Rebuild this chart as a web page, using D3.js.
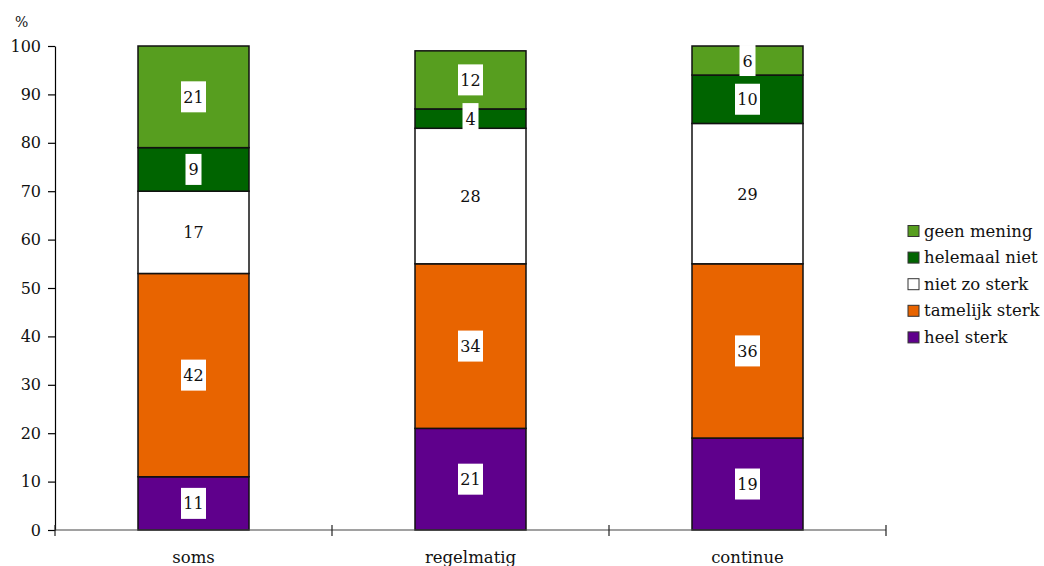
<!DOCTYPE html>
<html><head><meta charset="utf-8">
<script src="https://cdn.jsdelivr.net/npm/d3@7"></script>
<style>body{margin:0;background:#fff}svg{display:block}text{font-family:"DejaVu Serif",serif}</style>
</head><body><svg id="c" width="1044" height="566"></svg>
<script>
const categories = ["soms", "regelmatig", "continue"];
const seriesNames = ["heel sterk", "tamelijk sterk", "niet zo sterk", "helemaal niet", "geen mening"];
const heelSterk = [11, 21, 19];
const tamelijkSterk = [42, 34, 36];
const nietZoSterk = [17, 28, 29];
const helemaalNiet = [9, 4, 10];
const geenMening = [21, 12, 6];
const yTicks = [0, 10, 20, 30, 40, 50, 60, 70, 80, 90, 100];
const colors = ["#5f008c", "#e86400", "#ffffff", "#006400", "#579e1f"];

const values = [heelSterk, tamelijkSterk, nietZoSterk, helemaalNiet, geenMening];
const data = categories.map((c, i) => {
  const o = {cat: c};
  seriesNames.forEach((s, j) => o[s] = values[j][i]);
  return o;
});
const stacked = d3.stack().keys(seriesNames)(data);

const svg = d3.select("#c");
const x0 = 55, x1 = 886, yTop = 46, yBot = 530;
const x = d3.scaleBand().domain(categories).range([x0, x1]).paddingInner(0).paddingOuter(0);
const y = d3.scaleLinear().domain([0, 100]).range([yBot, yTop]);
const barW = 111;

// bars
const g = svg.append("g");
stacked.forEach((layer, j) => {
  g.selectAll(null).data(layer).enter().append("rect")
    .attr("x", d => x(d.data.cat) + x.bandwidth() / 2 - barW / 2)
    .attr("y", d => y(d[1]))
    .attr("width", barW)
    .attr("height", d => y(d[0]) - y(d[1]))
    .attr("fill", colors[j])
    .attr("stroke", "#111")
    .attr("stroke-width", 1.5);
});

// axes
const yAxis = d3.axisLeft(y).tickValues(yTicks).tickSize(7).tickSizeOuter(0);
const ya = svg.append("g").attr("transform", `translate(${x0},0)`).call(yAxis);
ya.select(".domain").attr("stroke", "#000").attr("stroke-width", 1.2);
ya.selectAll(".tick line").attr("stroke", "#000").attr("stroke-width", 1.2);
ya.selectAll(".tick text").attr("font-size", 16).attr("fill", "#111").attr("x", -14).attr("font-family", "DejaVu Serif");

// x axis line
svg.append("line").attr("x1", x0).attr("x2", x1).attr("y1", yBot).attr("y2", yBot)
  .attr("stroke", "#444").attr("stroke-width", 1.2);
const bounds = [x0, ...categories.map(c => x(c) + x.bandwidth())];
svg.selectAll(null).data(bounds).enter().append("line")
  .attr("x1", d => d).attr("x2", d => d).attr("y1", yBot - 5).attr("y2", yBot + 6)
  .attr("stroke", "#222").attr("stroke-width", 1.2);
svg.selectAll(null).data(categories).enter().append("text")
  .attr("x", d => x(d) + x.bandwidth() / 2).attr("y", 563)
  .attr("text-anchor", "middle").attr("font-size", 16.5).attr("fill", "#111").text(d => d);

svg.append("text").attr("x", 15).attr("y", 27).attr("font-size", 14).attr("fill", "#111").text("%");

// value labels
stacked.forEach((layer, j) => {
  layer.forEach(d => {
    const v = d[1] - d[0];
    const cx = x(d.data.cat) + x.bandwidth() / 2;
    const cy = (y(d[0]) + y(d[1])) / 2;
    const w = String(v).length > 1 ? 25 : 16;
    svg.append("rect").attr("x", cx - w / 2).attr("y", cy - 15.5).attr("width", w).attr("height", 31).attr("fill", "#fff");
    svg.append("text").attr("x", cx).attr("y", cy + 6).attr("text-anchor", "middle")
      .attr("font-size", 16).attr("fill", "#111").text(v);
  });
});

// legend
const legendItems = seriesNames.map((s, j) => ({s, c: colors[j]})).reverse();
const lg = svg.append("g");
legendItems.forEach((d, i) => {
  const cy = 231 + i * 26.6;
  lg.append("rect").attr("x", 908).attr("y", cy - 5.5).attr("width", 11).attr("height", 11)
    .attr("fill", d.c).attr("stroke", "#333").attr("stroke-width", 1);
  lg.append("text").attr("x", 924).attr("y", cy + 5.5).attr("font-size", 16.5).attr("fill", "#111").text(d.s);
});
</script></body></html>
